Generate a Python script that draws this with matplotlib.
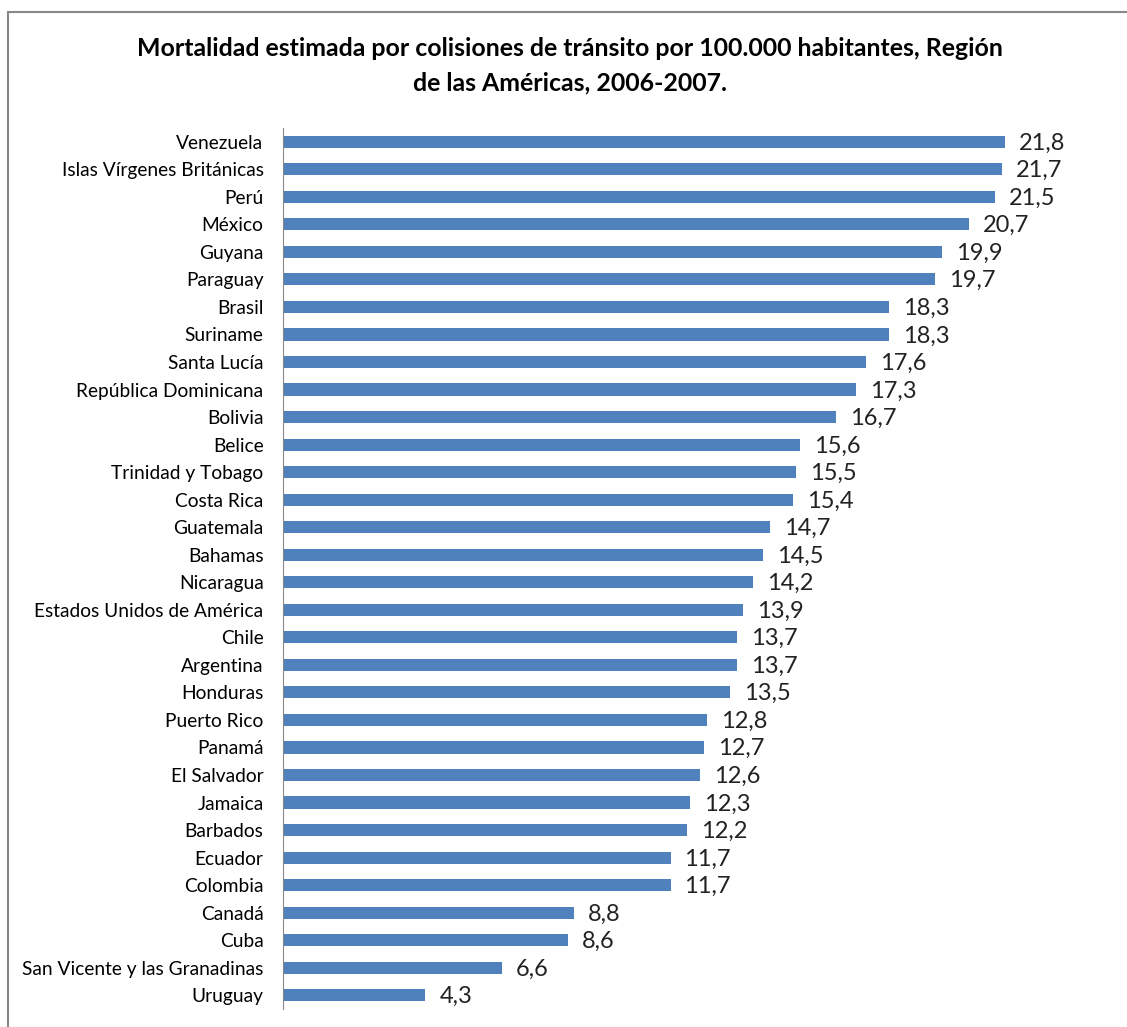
import matplotlib.pyplot as plt
from matplotlib.lines import Line2D

plt.rcParams['font.family'] = ['Lato', 'DejaVu Sans']

paises = ['Venezuela', 'Islas Vírgenes Británicas', 'Perú', 'México', 'Guyana',
          'Paraguay', 'Brasil', 'Suriname', 'Santa Lucía', 'República Dominicana',
          'Bolivia', 'Belice', 'Trinidad y Tobago', 'Costa Rica', 'Guatemala',
          'Bahamas', 'Nicaragua', 'Estados Unidos de América', 'Chile', 'Argentina',
          'Honduras', 'Puerto Rico', 'Panamá', 'El Salvador', 'Jamaica', 'Barbados',
          'Ecuador', 'Colombia', 'Canadá', 'Cuba', 'San Vicente y las Granadinas',
          'Uruguay']
tasas = [21.8, 21.7, 21.5, 20.7, 19.9, 19.7, 18.3, 18.3, 17.6, 17.3, 16.7, 15.6,
         15.5, 15.4, 14.7, 14.5, 14.2, 13.9, 13.7, 13.7, 13.5, 12.8, 12.7, 12.6,
         12.3, 12.2, 11.7, 11.7, 8.8, 8.6, 6.6, 4.3]

W, H = 1127, 1027
fig = plt.figure(figsize=(W / 100, H / 100), dpi=100)

# axes placed in pixel terms: left axis at x=283, bars from y=128 to 1009
x0, x1 = 283, 283 + 25 * 33.12
y_top, y_bot = 128, 1009
ax = fig.add_axes([x0 / W, 1 - y_bot / H, (x1 - x0) / W, (y_bot - y_top) / H])

pos = list(range(len(paises)))
ax.barh(pos, tasas, height=0.44, color='#4F81BD')
ax.set_ylim(len(paises) - 0.5, -0.5)
ax.set_xlim(0, 25)
ax.set_yticks(pos)
ax.set_yticklabels(paises, fontsize=13.8)
ax.tick_params(axis='y', length=0, pad=14)
ax.set_xticks([])
for s in ['top', 'right', 'bottom']:
    ax.spines[s].set_visible(False)
ax.spines['left'].set_color('#888888')

for p, v in zip(pos, tasas):
    ax.text(v + 0.42, p + 0.05, f'{v:.1f}'.replace('.', ','), va='center', ha='left',
            fontsize=17, color='#222222')

fig.text(570 / W, 1 - 48 / H, 'Mortalidad estimada por colisiones de tránsito por 100.000 habitantes, Región',
         ha='center', va='center', fontsize=17.9, fontweight='bold')
fig.text(570 / W, 1 - 83 / H, 'de las Américas, 2006-2007.',
         ha='center', va='center', fontsize=17.9, fontweight='bold')

# partial chart frame (top and left edges)
fig.add_artist(Line2D([8 / W, 1], [1 - 12 / H, 1 - 12 / H], transform=fig.transFigure,
                      color='#888888', lw=1.5))
fig.add_artist(Line2D([8 / W, 8 / W], [0, 1 - 12 / H], transform=fig.transFigure,
                      color='#888888', lw=1.5))

fig.savefig('out.png', dpi=100)
